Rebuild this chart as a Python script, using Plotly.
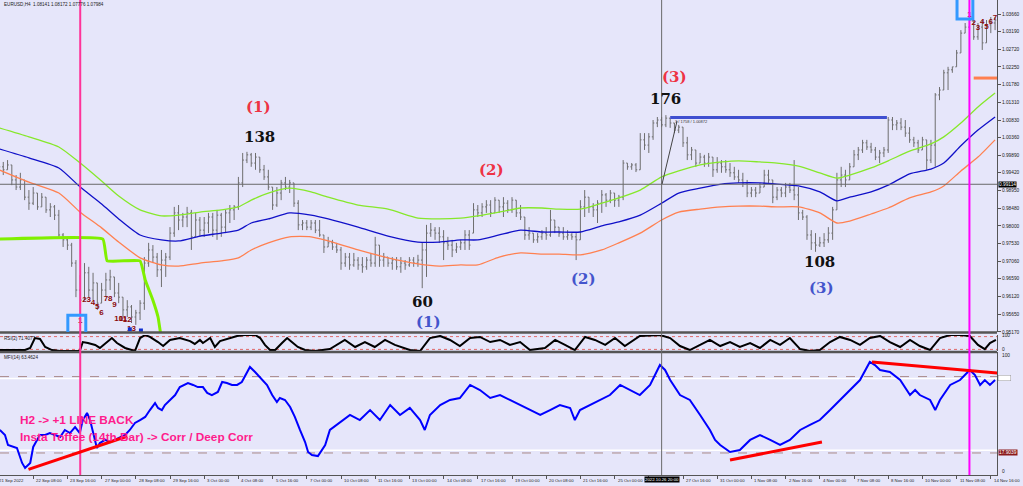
import plotly.graph_objects as go

# ---------------- data ----------------
time_labels = ["21 Sep 2022", "22 Sep 08:00", "23 Sep 16:00", "27 Sep 00:00", "28 Sep 08:00",
               "29 Sep 16:00", "3 Oct 00:00", "4 Oct 08:00", "5 Oct 16:00", "7 Oct 00:00",
               "10 Oct 08:00", "11 Oct 16:00", "13 Oct 00:00", "14 Oct 08:00", "17 Oct 16:00",
               "19 Oct 00:00", "20 Oct 08:00", "21 Oct 16:00", "25 Oct 00:00", "26 Oct 08:00",
               "27 Oct 16:00", "31 Oct 00:00", "1 Nov 08:00", "2 Nov 16:00", "4 Nov 00:00",
               "7 Nov 08:00", "8 Nov 16:00", "10 Nov 00:00", "11 Nov 08:00", "14 Nov 16:00"]
label_step = 8  # one time label every 8 H4 bars

bar_open = [
    .9968, .9958, .9950, .9963, .9923, .9904, .9923, .9877, .9861, .9888,
    .9851, .9877, .9843, .9851, .9829, .9776, .9763, .9749, .9701, .9629,
    .9602, .9675, .9629, .9648, .9594, .9629, .9656, .9664, .9621, .9610,
    .9576, .9584, .9557, .9568, .9594, .9701, .9736, .9717, .9683, .9709,
    .9717, .9781, .9835, .9816, .9824, .9835, .9771, .9816, .9789, .9808,
    .9824, .9789, .9829, .9797, .9835, .9843, .9851, .9915, .9976, .9990,
    .9968, .9984, .9950, .9931, .9904, .9856, .9888, .9915, .9904, .9915,
    .9861, .9803, .9808, .9797, .9808, .9789, .9776, .9744, .9755, .9744,
    .9736, .9701, .9717, .9696, .9709, .9696, .9691, .9709, .9701, .9749,
    .9709, .9717, .9701, .9709, .9691, .9701, .9696, .9709, .9701, .9709,
    .9736, .9781, .9789, .9781, .9771, .9755, .9749, .9736, .9744, .9755,
    .9776, .9781, .9843, .9835, .9851, .9856, .9835, .9869, .9851, .9861,
    .9843, .9869, .9835, .9824, .9776, .9781, .9763, .9771, .9781, .9776,
    .9816, .9797, .9781, .9771, .9776, .9771, .9763, .9851, .9877, .9851,
    .9843, .9861, .9883, .9869, .9888, .9869, .9877, .9968, .9958, .9963,
    .9950, 1.0030, 1.0016, 1.0038, 1.0075, 1.0083, 1.0070, 1.0088, 1.0075, 1.0056,
    1.0064, 1.0022, .9990, 1.0003, .9968, .9984, .9968, .9984, .9950, .9968,
    .9958, .9950, .9942, .9931, .9923, .9915, .9888, .9896, .9888, .9904,
    .9936, .9923, .9877, .9896, .9888, .9904, .9896, .9883, .9835, .9824,
    .9776, .9755, .9749, .9755, .9763, .9781, .9843, .9923, .9936, .9923,
    .9958, .9990, 1.0003, 1.0022, 1.0011, 1.0003, .9984, .9995, 1.0003, 1.0083,
    1.0070, 1.0075, 1.0064, 1.0048, 1.0030, 1.0022, 1.0003, 1.0030, .9976, 1.0016,
    1.0150, 1.0163, 1.0209, 1.0217, 1.0225, 1.0262, 1.0315, 1.0331, 1.0350, 1.0305,
    1.0331, 1.0289, 1.0337, 1.0342]
bar_high = [
    .9976, .9971, .9976, .9963, .9936, .9942, .9923, .9896, .9904, .9888,
    .9888, .9877, .9861, .9856, .9843, .9781, .9771, .9755, .9709, .9669,
    .9701, .9691, .9675, .9648, .9648, .9675, .9683, .9664, .9648, .9610,
    .9602, .9589, .9576, .9602, .9717, .9755, .9749, .9728, .9736, .9728,
    .9797, .9851, .9856, .9835, .9851, .9843, .9835, .9824, .9824, .9835,
    .9835, .9843, .9835, .9843, .9856, .9856, .9931, .9995, .9998, .9995,
    .9995, .9984, .9963, .9950, .9904, .9904, .9923, .9931, .9923, .9915,
    .9869, .9816, .9816, .9816, .9816, .9816, .9776, .9771, .9763, .9755,
    .9744, .9728, .9728, .9728, .9717, .9717, .9717, .9728, .9771, .9749,
    .9728, .9717, .9717, .9717, .9717, .9709, .9717, .9717, .9723, .9755,
    .9803, .9808, .9797, .9797, .9789, .9771, .9763, .9755, .9763, .9789,
    .9789, .9861, .9856, .9861, .9869, .9869, .9877, .9869, .9877, .9869,
    .9877, .9869, .9856, .9824, .9797, .9781, .9781, .9789, .9797, .9843,
    .9816, .9797, .9797, .9789, .9781, .9781, .9869, .9896, .9877, .9861,
    .9869, .9896, .9888, .9896, .9888, .9883, .9976, .9968, .9968, .9968,
    1.0048, 1.0048, 1.0048, 1.0083, 1.0091, 1.0091, 1.0096, 1.0088, 1.0075, 1.0070,
    1.0064, 1.0038, 1.0011, 1.0003, .9995, .9990, .9995, .9984, .9984, .9976,
    .9976, .9968, .9958, .9950, .9942, .9923, .9904, .9904, .9915, .9950,
    .9950, .9923, .9904, .9904, .9915, .9915, .9976, .9904, .9843, .9829,
    .9789, .9781, .9771, .9781, .9797, .9851, .9942, .9958, .9950, .9968,
    1.0003, 1.0011, 1.0030, 1.0030, 1.0022, 1.0011, 1.0003, 1.0011, 1.0091, 1.0091,
    1.0083, 1.0088, 1.0083, 1.0064, 1.0038, 1.0030, 1.0038, 1.0030, 1.0030, 1.0155,
    1.0171, 1.0217, 1.0225, 1.0225, 1.0270, 1.0323, 1.0342, 1.0369, 1.0350, 1.0342,
    1.0350, 1.0350, 1.0358, 1.0358]
bar_low = [
    .9944, .9936, .9950, .9909, .9896, .9896, .9869, .9843, .9856, .9843,
    .9851, .9835, .9824, .9816, .9771, .9744, .9736, .9691, .9610, .9560,
    .9602, .9610, .9602, .9576, .9594, .9610, .9629, .9610, .9594, .9557,
    .9557, .9541, .9536, .9549, .9576, .9691, .9701, .9664, .9637, .9664,
    .9709, .9771, .9789, .9797, .9797, .9736, .9771, .9771, .9771, .9781,
    .9771, .9763, .9771, .9781, .9808, .9816, .9843, .9904, .9968, .9958,
    .9950, .9942, .9923, .9896, .9843, .9851, .9869, .9896, .9888, .9851,
    .9789, .9789, .9789, .9789, .9781, .9771, .9728, .9744, .9736, .9728,
    .9683, .9691, .9683, .9691, .9683, .9675, .9683, .9691, .9691, .9691,
    .9691, .9691, .9683, .9683, .9675, .9683, .9691, .9691, .9691, .9634,
    .9664, .9771, .9763, .9755, .9709, .9736, .9717, .9728, .9736, .9736,
    .9736, .9781, .9824, .9824, .9835, .9824, .9835, .9835, .9824, .9835,
    .9835, .9824, .9816, .9763, .9763, .9755, .9755, .9763, .9763, .9771,
    .9781, .9771, .9763, .9763, .9763, .9709, .9763, .9824, .9835, .9824,
    .9808, .9835, .9851, .9861, .9851, .9851, .9869, .9950, .9950, .9944,
    .9950, 1.0003, .9995, 1.0030, 1.0064, 1.0064, 1.0064, 1.0062, 1.0048, 1.0048,
    1.0011, .9976, .9976, .9958, .9968, .9958, .9958, .9931, .9942, .9942,
    .9942, .9931, .9923, .9915, .9904, .9877, .9877, .9877, .9888, .9904,
    .9915, .9861, .9869, .9877, .9877, .9888, .9869, .9816, .9816, .9763,
    .9736, .9731, .9744, .9744, .9755, .9763, .9843, .9904, .9904, .9923,
    .9958, .9976, .9995, 1.0003, .9995, .9976, .9968, .9984, .9995, 1.0056,
    1.0056, 1.0056, 1.0038, 1.0022, 1.0011, .9995, 1.0003, .9950, .9968, .9958,
    1.0136, 1.0163, 1.0163, 1.0209, 1.0225, 1.0262, 1.0315, 1.0323, 1.0297, 1.0297,
    1.0270, 1.0289, 1.0315, 1.0323]
bar_close = [
    .9958, .9950, .9963, .9923, .9904, .9923, .9877, .9861, .9888, .9851,
    .9877, .9843, .9851, .9829, .9776, .9763, .9749, .9701, .9629, .9602,
    .9675, .9629, .9648, .9594, .9629, .9656, .9664, .9621, .9610, .9576,
    .9584, .9557, .9568, .9594, .9701, .9736, .9717, .9683, .9709, .9717,
    .9781, .9835, .9816, .9824, .9835, .9771, .9816, .9789, .9808, .9824,
    .9789, .9829, .9797, .9835, .9843, .9851, .9915, .9976, .9990, .9968,
    .9984, .9950, .9931, .9904, .9856, .9888, .9915, .9904, .9915, .9861,
    .9803, .9808, .9797, .9808, .9789, .9776, .9744, .9755, .9744, .9736,
    .9701, .9717, .9696, .9709, .9696, .9691, .9709, .9701, .9749, .9709,
    .9717, .9701, .9709, .9691, .9701, .9696, .9709, .9701, .9709, .9736,
    .9781, .9789, .9781, .9771, .9755, .9749, .9736, .9744, .9755, .9776,
    .9749, .9843, .9835, .9851, .9856, .9835, .9869, .9851, .9861, .9843,
    .9869, .9835, .9824, .9776, .9781, .9763, .9771, .9781, .9776, .9816,
    .9797, .9781, .9771, .9776, .9771, .9763, .9851, .9877, .9851, .9843,
    .9861, .9883, .9869, .9888, .9869, .9877, .9968, .9958, .9963, .9950,
    1.0030, 1.0016, 1.0038, 1.0075, 1.0083, 1.0070, 1.0088, 1.0075, 1.0056, 1.0064,
    1.0022, .9990, 1.0003, .9968, .9984, .9968, .9984, .9950, .9968, .9958,
    .9950, .9942, .9931, .9923, .9915, .9888, .9896, .9888, .9904, .9936,
    .9923, .9877, .9896, .9888, .9904, .9896, .9883, .9835, .9824, .9776,
    .9755, .9749, .9755, .9763, .9781, .9843, .9923, .9936, .9923, .9958,
    .9990, 1.0003, 1.0022, 1.0011, 1.0003, .9984, .9995, 1.0003, 1.0083, 1.0070,
    1.0075, 1.0064, 1.0048, 1.0030, 1.0022, 1.0003, 1.0030, .9976, 1.0016, 1.0150,
    1.0163, 1.0209, 1.0217, 1.0225, 1.0262, 1.0315, 1.0331, 1.0350, 1.0305, 1.0331,
    1.0289, 1.0337, 1.0342, 1.0350]

price_ticks = [1.03660, 1.03190, 1.02720, 1.02250, 1.01780, 1.01310, 1.00830, 1.00360,
               0.99890, 0.99420, 0.98950, 0.98480, 0.98000, 0.97530, 0.97060, 0.96590,
               0.96120, 0.95650, 0.95170]

ma_bars = [0, 7, 14, 19, 24, 28, 33, 38, 42, 47, 52, 56, 59, 63, 68, 73, 77, 84, 91, 98,
           103, 108, 112, 117, 122, 127, 131, 136, 141, 145, 150, 155, 159, 164, 169, 173,
           178, 182, 187, 192, 196, 199, 204, 208, 213, 218, 221, 225, 229, 233]
ma_green = [1.0062, 1.0038, 1.0011, .9968, .9920, .9880, .9843, .9827, .9829, .9837,
            .9843, .9851, .9869, .9888, .9901, .9891, .9877, .9856, .9845, .9821,
            .9819, .9821, .9827, .9837, .9848, .9848, .9845, .9845, .9861, .9875,
            .9896, .9931, .9947, .9963, .9971, .9974, .9971, .9968, .9960, .9942,
            .9928, .9936, .9955, .9974, 1.0000, 1.0019, 1.0038, 1.0075, 1.0118, 1.0155]
ma_blue = [1.0006, .9982, .9955, .9904, .9859, .9819, .9776, .9763, .9760, .9773,
           .9781, .9789, .9808, .9819, .9835, .9829, .9819, .9797, .9773, .9757,
           .9757, .9763, .9763, .9776, .9789, .9784, .9784, .9784, .9800, .9811,
           .9829, .9861, .9888, .9901, .9912, .9915, .9915, .9912, .9907, .9891,
           .9867, .9877, .9891, .9909, .9939, .9952, .9968, 1.0014, 1.0056, 1.0091]
ma_orange = [.9950, .9917, .9888, .9837, .9795, .9757, .9715, .9696, .9693, .9701,
             .9707, .9715, .9736, .9755, .9771, .9771, .9760, .9736, .9715, .9699,
             .9693, .9696, .9696, .9717, .9728, .9725, .9725, .9723, .9736, .9755,
             .9781, .9816, .9837, .9845, .9851, .9853, .9853, .9851, .9851, .9835,
             .9808, .9813, .9832, .9848, .9875, .9891, .9907, .9947, .9984, 1.0030]

step_bars = [0, 24.3, 25.3, 33.0, 34.2, 36.0, 37.2, 37.9]
step_price = [0.9765, 0.9765, 0.9707, 0.9707, 0.9656, 0.9602, 0.9557, 0.9505]

rsi_bars = [0.2, 6.1, 7.3, 8.4, 9.6, 10.8, 12.4, 14.3, 18.9, 19.6,
            20.8, 22.5, 23.6, 25.3, 26.4, 27.6, 29.5, 31.8, 33.0, 34.2,
            35.3, 37.2, 38.4, 40.0, 42.3, 44.7, 45.8, 47.0, 47.7, 49.4,
            50.5, 51.7, 54.0, 55.7, 57.5, 59.9, 61.1, 62.2, 63.4, 64.6,
            66.2, 67.4, 68.5, 69.9, 71.6, 73.9, 77.4, 80.9, 83.3, 85.6,
            87.9, 90.3, 92.6, 96.1, 98.5, 100.8, 103.2, 105.5, 107.8, 110.2,
            112.5, 114.9, 117.2, 119.5, 121.9, 124.2, 127.7, 130.1, 132.4, 134.7,
            137.1, 139.4, 141.8, 144.1, 146.4, 149.9, 154.6, 157.0, 159.3, 161.6,
            164.0, 166.3, 168.7, 171.0, 173.3, 175.7, 178.0, 180.4, 182.7, 185.0,
            187.4, 189.7, 192.0, 194.4, 196.7, 199.1, 201.4, 203.7, 206.1, 208.4,
            210.8, 213.1, 215.4, 217.8, 220.1, 222.5, 224.8, 227.1, 229.0, 230.6,
            231.8, 233.2]
rsi_vals = [6, 6, 19, 81, 75, 25, 6, 0, 0, 56,
            50, 38, 19, 56, 81, 50, 19, 0, 81, 100,
            88, 56, 31, 69, 81, 62, 44, 69, 50, 81,
            25, 62, 81, 94, 100, 100, 81, 38, 6, 6,
            50, 81, 56, 25, 6, 0, 12, 69, 25, 56,
            25, 69, 38, 6, 0, 81, 94, 69, 31, 81,
            88, 56, 69, 38, 56, 6, 19, 69, 38, 6,
            88, 69, 38, 81, 31, 94, 100, 81, 31, 6,
            38, 69, 31, 56, 25, 50, 19, 69, 38, 81,
            12, 0, 6, 56, 88, 69, 38, 81, 94, 56,
            25, 69, 31, 6, 81, 100, 100, 94, 38, 12,
            50, 69]

mfi_bars = [0.2, 1.4, 2.1, 3.3, 4.2, 5.4, 6.1, 7.3, 8.0, 8.9,
            9.6, 10.8, 11.9, 13.1, 14.3, 15.4, 16.6, 17.8, 18.9, 19.6,
            20.6, 21.3, 22.0, 22.9, 23.6, 24.8, 26.0, 27.1, 28.3, 29.5,
            30.6, 31.8, 33.0, 34.2, 35.3, 36.5, 37.2, 38.1, 38.8, 40.0,
            41.2, 42.3, 43.5, 44.2, 45.4, 46.5, 47.7, 48.7, 49.8, 51.2,
            52.2, 53.3, 54.5, 55.7, 56.8, 57.5, 58.7, 59.9, 61.5, 62.7,
            63.9, 65.0, 65.7, 66.9, 68.1, 69.2, 70.4, 71.6, 72.3, 73.2,
            74.6, 76.3, 77.4, 79.8, 82.1, 84.4, 86.8, 89.1, 91.5, 93.8,
            96.1, 98.5, 99.6, 100.8, 103.2, 105.5, 107.8, 110.2, 112.5, 114.9,
            117.2, 119.5, 121.9, 124.2, 126.6, 128.9, 131.2, 133.6, 134.7, 135.9,
            138.2, 140.6, 142.9, 145.3, 147.6, 149.9, 152.3, 154.6, 155.8, 157.0,
            159.3, 161.6, 164.0, 166.3, 167.5, 168.7, 171.0, 173.3, 175.7, 178.0,
            180.4, 182.7, 185.0, 187.4, 189.7, 192.0, 194.4, 196.7, 199.1, 201.4,
            203.7, 204.9, 206.1, 208.4, 210.8, 213.1, 214.3, 215.4, 217.8, 219.0,
            220.1, 222.5, 224.8, 227.1, 228.3, 229.5, 230.6, 231.8, 233.0]
mfi_vals = [36.6, 32.5, 24.4, 22.8, 22.0, 9.8, 5.7, 9.8, 22.8, 28.5,
            32.5, 32.5, 34.1, 32.5, 30.9, 36.6, 34.1, 39.0, 34.1, 44.7,
            50.4, 44.7, 34.1, 22.0, 26.0, 28.5, 26.8, 28.5, 30.9, 32.5,
            36.6, 42.3, 44.7, 47.2, 52.8, 58.5, 54.5, 52.8, 56.9, 61.0,
            65.0, 71.5, 73.2, 74.8, 73.2, 71.5, 71.5, 66.7, 65.0, 67.5,
            75.6, 74.8, 73.2, 73.2, 75.6, 79.7, 87.8, 83.7, 77.2, 73.2,
            65.0, 59.3, 62.6, 61.0, 55.3, 47.2, 36.6, 26.8, 18.7, 16.3,
            15.4, 24.4, 36.6, 43.1, 48.8, 44.7, 52.8, 44.7, 56.9, 48.8,
            54.5, 44.7, 36.6, 48.8, 56.9, 61.0, 62.6, 73.2, 69.1, 62.6,
            65.0, 61.0, 56.9, 52.8, 48.8, 52.8, 56.9, 54.5, 44.7, 52.8,
            56.9, 61.0, 65.0, 73.2, 69.1, 65.0, 73.2, 89.4, 85.4, 77.2,
            65.0, 61.0, 48.8, 36.6, 28.5, 24.4, 18.7, 20.3, 28.5, 32.5,
            28.5, 24.4, 28.5, 36.6, 40.7, 44.7, 52.8, 61.0, 69.1, 77.2,
            91.9, 89.4, 85.4, 83.7, 77.2, 65.0, 69.1, 65.0, 61.0, 52.8,
            61.0, 73.2, 77.2, 85.4, 81.3, 73.2, 77.2, 73.2, 77.2]
mfi_levels = [80.0, 17.9039]

count_left_bars = [19, 20, 21, 22, 23, 24, 25, 26, 27, 28, 29, 30, 31]
count_left_price = [.9546, .9602, .9602, .9594, .9584, .9568, .9605, .9605, .9589,
                    .9552, .9552, .9549, .9525]
count_right_bars = [227, 228, 229, 230, 231, 232, 233]
count_right_price = [1.0363, 1.0342, 1.0329, 1.0345, 1.0331, 1.0345, 1.0355]

wave_text = ["(1)", "138", "60", "(1)", "(2)", "(2)", "(3)", "176", "108", "(3)"]
wave_bars = [60.8, 60.9, 99.0, 100.5, 115.3, 136.8, 157.9, 155.8, 192.0, 192.5]
wave_price = [1.0118, 1.0038, 0.9598, 0.9544, 0.9950, 0.9658, 1.0198, 1.0139, 0.9704, 0.9634]
wave_color = ["#EE3344", "#111111", "#111111", "#4455CC", "#EE3344", "#4455CC",
              "#EE3344", "#111111", "#111111", "#4455CC"]

pink_bar, magenta_bar, cross_bar = 19, 227, 155
cross_price = 0.99114
hline_price, hline_from, hline_to = 1.0090, 157, 207.7
orange_mark_price = 1.0195

# ---------------- figure ----------------
BG = "#E6E6FA"
W, H = 1023, 486
MR, MB = 26, 11
PH = H - MB
X_RANGE = [0.234, 233.45]


def py(pix):
    return 1 - pix / PH


SANS = "Liberation Sans, Arial, sans-serif"
SERIF = "DejaVu Serif, Liberation Serif, serif"

n = len(bar_close)
bars = list(range(n))

fig = go.Figure()
fig.add_trace(go.Ohlc(
    x=bars, open=bar_open, high=bar_high, low=bar_low, close=bar_close,
    increasing=dict(line=dict(color="#6e6e6e", width=1)),
    decreasing=dict(line=dict(color="#6e6e6e", width=1)),
    tickwidth=0.3, xaxis="x", yaxis="y", hoverinfo="skip", showlegend=False))

for vals, col in [(ma_green, "#86E82A"), (ma_blue, "#1010C8"), (ma_orange, "#FF8050")]:
    fig.add_trace(go.Scatter(x=ma_bars, y=vals, mode="lines", line=dict(color=col, width=1.3, shape="spline", smoothing=0.6),
                             xaxis="x", yaxis="y", hoverinfo="skip", showlegend=False))

fig.add_trace(go.Scatter(x=step_bars, y=step_price, mode="lines",
                         line=dict(color="#80F000", width=3, shape="spline", smoothing=0.3),
                         xaxis="x", yaxis="y", hoverinfo="skip", showlegend=False))

fig.add_trace(go.Scatter(x=count_left_bars + count_right_bars,
                         y=count_left_price + count_right_price,
                         mode="text",
                         text=[str(i + 1) for i in range(len(count_left_bars))] +
                              [str(i + 1) for i in range(len(count_right_bars))],
                         textfont=dict(color="#8B0A0A", size=8, family=SANS, weight="bold"),
                         xaxis="x", yaxis="y", hoverinfo="skip", showlegend=False))

fig.add_trace(go.Scatter(x=[30.6, 33.2], y=[0.9524, 0.9521], mode="markers",
                         marker=dict(symbol="square", size=4, color="#1030D0"),
                         xaxis="x", yaxis="y", hoverinfo="skip", showlegend=False))

fig.add_trace(go.Scatter(x=rsi_bars, y=rsi_vals, mode="lines", line=dict(color="#000000", width=2),
                         xaxis="x", yaxis="y2", hoverinfo="skip", showlegend=False))
fig.add_trace(go.Scatter(x=mfi_bars, y=mfi_vals, mode="lines", line=dict(color="#0000FF", width=2),
                         xaxis="x", yaxis="y3", hoverinfo="skip", showlegend=False))

shapes = []
for pix in (332.5, 352.0):
    shapes.append(dict(type="line", xref="paper", yref="paper", x0=0, x1=1, y0=py(pix), y1=py(pix),
                       line=dict(color="#555555", width=2.5)))
for lv in (90, 10):
    shapes.append(dict(type="line", xref="paper", yref="y2", x0=0, x1=1, y0=lv, y1=lv,
                       line=dict(color="#E06A6A", width=1, dash="dot"), layer="below"))
shapes.append(dict(type="line", xref="paper", yref="y3", x0=0, x1=1, y0=78.5, y1=78.5,
                   line=dict(color="#FFFFFF", width=1.5), layer="below"))
shapes.append(dict(type="line", xref="paper", yref="y3", x0=0, x1=1, y0=20.2, y1=20.2,
                   line=dict(color="#FFFFFF", width=1.5), layer="below"))
for lv in mfi_levels:
    shapes.append(dict(type="line", xref="paper", yref="y3", x0=0, x1=1, y0=lv, y1=lv,
                       line=dict(color="#A88888", width=1, dash="dash"), layer="below"))
shapes.append(dict(type="line", xref="x", yref="paper", x0=cross_bar, x1=cross_bar, y0=0, y1=1,
                   line=dict(color="#6a6a6a", width=1)))
shapes.append(dict(type="line", xref="paper", yref="y", x0=0, x1=1, y0=cross_price, y1=cross_price,
                   line=dict(color="#6a6a6a", width=1)))
shapes.append(dict(type="line", xref="x", yref="y", x0=155.1, x1=158.6, y0=0.9912, y1=1.0080,
                   line=dict(color="#444444", width=1)))
shapes.append(dict(type="line", xref="x", yref="paper", x0=pink_bar, x1=pink_bar, y0=0, y1=1,
                   line=dict(color="#FF3399", width=2)))
shapes.append(dict(type="line", xref="x", yref="paper", x0=magenta_bar, x1=magenta_bar, y0=0, y1=1,
                   line=dict(color="#FF00FF", width=2)))
shapes.append(dict(type="rect", xref="x", yref="y", x0=16.1, x1=20.3, y0=0.9512, y1=0.9562,
                   line=dict(color="#3399FF", width=3)))
shapes.append(dict(type="rect", xref="x", yref="y", x0=224.1, x1=227.8, y0=1.0353, y1=1.0420,
                   line=dict(color="#3399FF", width=3)))
shapes.append(dict(type="line", xref="x", yref="y", x0=hline_from, x1=hline_to, y0=hline_price, y1=hline_price,
                   line=dict(color="#3F4FD0", width=3)))
shapes.append(dict(type="line", xref="x", yref="y", x0=228, x1=233.5, y0=orange_mark_price, y1=orange_mark_price,
                   line=dict(color="#FF7F50", width=3)))
for (xa, ya, xb, yb) in [(6.9, 4.6, 30.0, 31.5), (171.0, 12.2, 192.5, 26.8), (204.2, 91.9, 233.5, 82.9)]:
    shapes.append(dict(type="line", xref="x", yref="y3", x0=xa, x1=xb, y0=ya, y1=yb,
                       line=dict(color="#FF0000", width=3)))

small = dict(size=4.3, family=SANS, color="#222222")
ann = []
for k, lab in enumerate(time_labels):
    xk = k * label_step
    # the first label sits just left of the visible range and is cut by the edge, as in MT4
    ann.append(dict(x=max(xk, X_RANGE[0]), y=0, xref="x", yref="paper", text=lab, showarrow=False,
                    xanchor="left", yanchor="top", xshift=1 if xk >= X_RANGE[0] else -3, yshift=-1, font=small))
ann.append(dict(x=cross_bar, y=0, xref="x", yref="paper", text="2022.10.26 20:00", showarrow=False,
                xanchor="center", yanchor="top", yshift=-1, bgcolor="#000000", borderpad=0,
                font=dict(size=4.3, family=SANS, color="#FFFFFF")))
ann.append(dict(x=1, y=cross_price, xref="paper", yref="y", text="0.99114", showarrow=False,
                xanchor="left", xshift=1, bgcolor="#000000", borderpad=0,
                font=dict(size=4.8, family=SANS, color="#FFFFFF")))
ann.append(dict(x=0.002, y=py(4), xref="paper", yref="paper", text="EURUSD,H4  1.08141 1.08172 1.07776 1.07984",
                showarrow=False, xanchor="left", yanchor="middle", font=dict(size=4.6, family=SANS, color="#222222")))
ann.append(dict(x=0.002, y=py(338), xref="paper", yref="paper", text="RSI(2) 71.4077",
                showarrow=False, xanchor="left", yanchor="middle", font=dict(size=4.6, family=SANS, color="#222222")))
ann.append(dict(x=0.002, y=py(357), xref="paper", yref="paper", text="MFI(14) 63.4624",
                showarrow=False, xanchor="left", yanchor="middle", font=dict(size=4.6, family=SANS, color="#222222")))
for txt, yy, yr in [("100", 97, "y3"), ("0", 3, "y3"), ("100", 95, "y2"), ("0", 10, "y2")]:
    ann.append(dict(x=1, y=yy, xref="paper", yref=yr, text=txt, showarrow=False, xanchor="left", xshift=3,
                    font=dict(size=4.8, family=SANS, color="#222222")))
ann.append(dict(x=1, y=mfi_levels[1], xref="paper", yref="y3", text="17.9039", showarrow=False, xanchor="left",
                xshift=1, bgcolor="#8B1A1A", borderpad=0, font=dict(size=4.8, family=SANS, color="#FFFFFF")))
ann.append(dict(x=1, y=78.5, xref="paper", yref="y3", text="80.00", showarrow=False, xanchor="left",
                xshift=1, bgcolor="#FFFFFF", bordercolor="#999999", borderwidth=0.5, borderpad=0,
                font=dict(size=4.5, family=SANS, color="#FFFFFF")))
for t, xb, yp, c in zip(wave_text, wave_bars, wave_price, wave_color):
    ann.append(dict(x=xb, y=yp, xref="x", yref="y", text="<b>%s</b>" % t, showarrow=False,
                    font=dict(size=15, family=SERIF, color=c)))
ann.append(dict(x=157.7, y=1.0079, xref="x", yref="y", text="3 / 1758 / 1.00872", showarrow=False,
                xanchor="left", font=dict(size=4, family=SANS, color="#333333")))
ann.append(dict(x=18 / (W - MR), y=py(420), xref="paper", yref="paper", text="<b>H2 -&gt; +1 LINE BACK</b>",
                showarrow=False, xanchor="left", yanchor="middle",
                font=dict(size=11.8, family=SANS, color="#FF1C8C")))
ann.append(dict(x=18 / (W - MR), y=py(437), xref="paper", yref="paper",
                text="<b>Insta Toffee (14th Bar) -&gt; Corr / Deep Corr</b>",
                showarrow=False, xanchor="left", yanchor="middle",
                font=dict(size=11.8, family=SANS, color="#FF1C8C")))

axis_common = dict(showgrid=False, zeroline=False, showline=True, linecolor="#555555", linewidth=1)

fig.update_layout(
    width=W, height=H, margin=dict(l=0, r=MR, t=0, b=MB, autoexpand=False),
    paper_bgcolor=BG, plot_bgcolor=BG, hovermode=False, showlegend=False,
    xaxis=dict(domain=[0, 1], range=X_RANGE, anchor="y3",
               tickvals=[k * label_step for k in range(len(time_labels))], showticklabels=False,
               ticks="outside", ticklen=3, tickcolor="#555555",
               rangeslider=dict(visible=False), **axis_common),
    yaxis=dict(domain=[py(332), 1], range=[0.951696, 1.04034], side="right", anchor="x",
               tickvals=price_ticks, tickformat=".5f", ticks="outside", ticklen=3, tickcolor="#555555",
               tickfont=dict(size=4.8, family=SANS, color="#222222"), automargin=False, **axis_common),
    yaxis2=dict(domain=[py(351), py(335)], range=[0, 100], side="right", anchor="x",
                showticklabels=False, **axis_common),
    yaxis3=dict(domain=[0, py(352)], range=[0, 100], side="right", anchor="x",
                showticklabels=False, **axis_common),
    shapes=shapes, annotations=ann,
)

fig.write_html("out.html", config={"displayModeBar": False, "staticPlot": True},
               post_script="document.body.style.margin='0px';document.body.style.overflow='hidden';")
